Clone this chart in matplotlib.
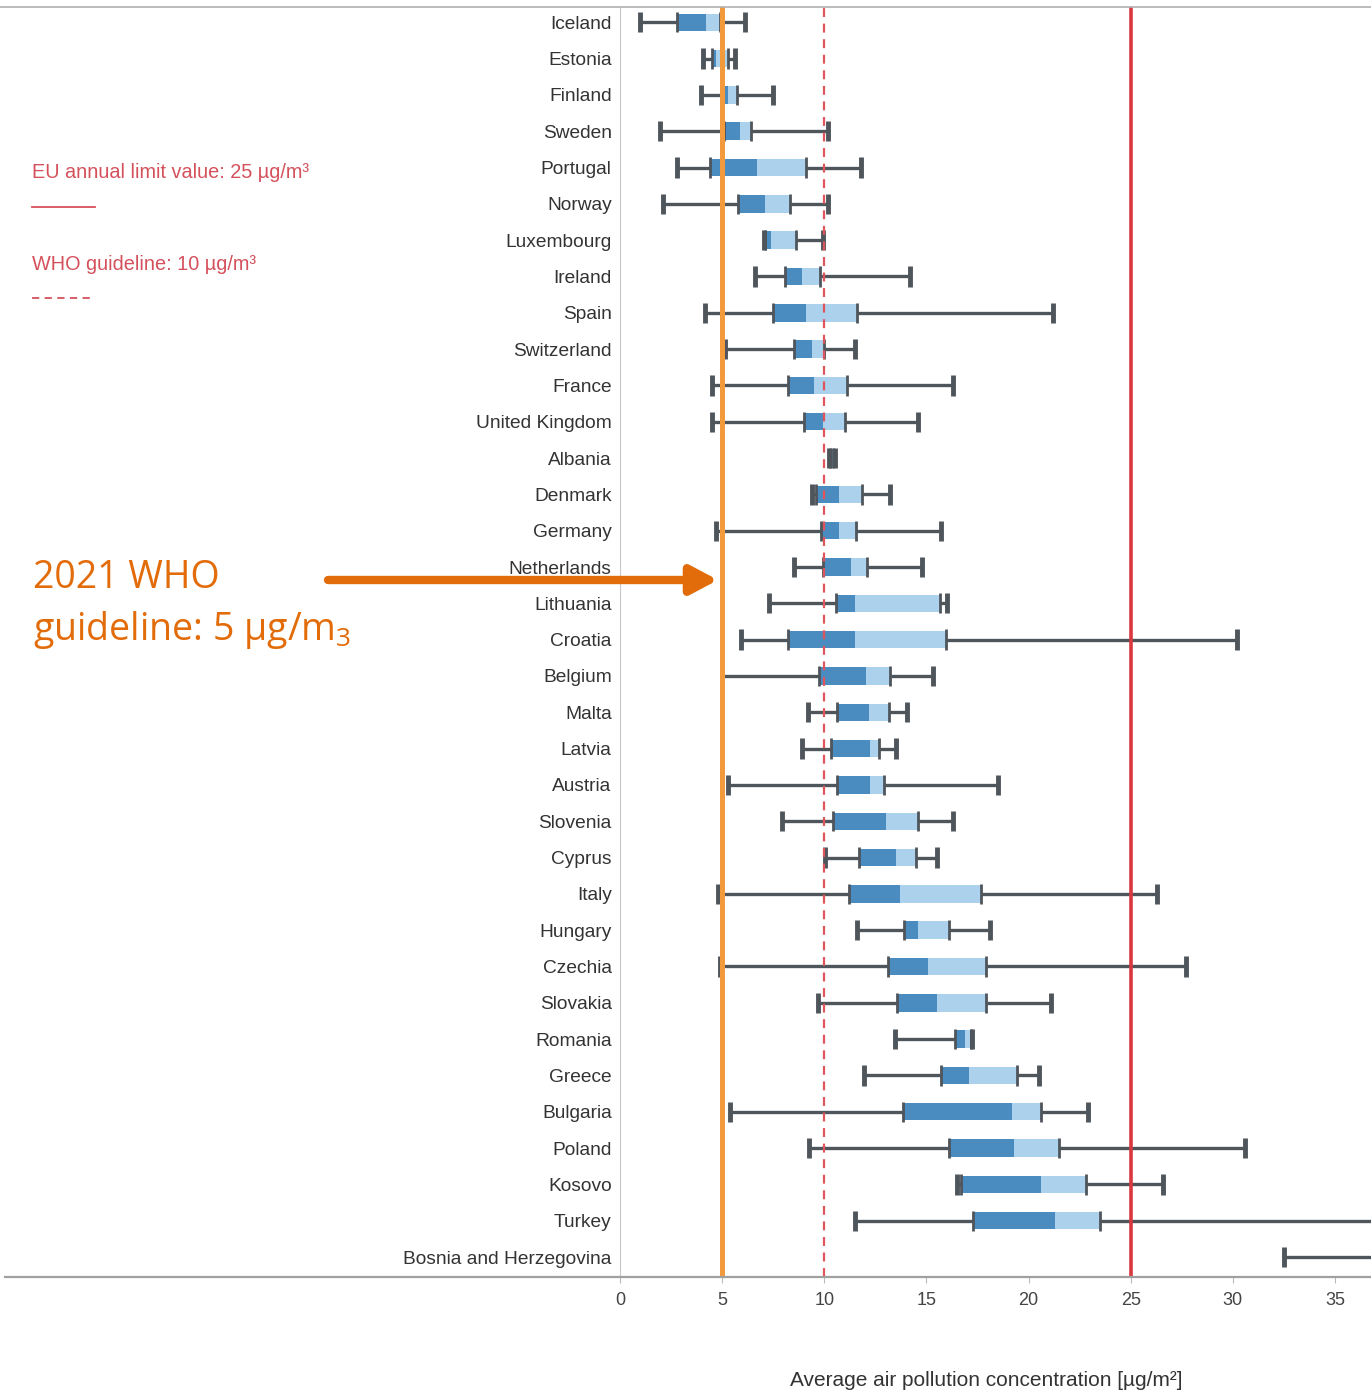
import matplotlib
matplotlib.use("Agg")
import matplotlib.pyplot as plt
from matplotlib.lines import Line2D

plt.rcParams['font.family'] = ['Liberation Sans', 'DejaVu Sans']
plt.rcParams['mathtext.fontset'] = 'custom'
plt.rcParams['mathtext.rm'] = 'Open Sans'
plt.rcParams['mathtext.default'] = 'regular'

# Country order, top to bottom
countries = ["Iceland", "Estonia", "Finland", "Sweden", "Portugal", "Norway",
             "Luxembourg", "Ireland", "Spain", "Switzerland", "France",
             "United Kingdom", "Albania", "Denmark", "Germany", "Netherlands",
             "Lithuania", "Croatia", "Belgium", "Malta", "Latvia", "Austria",
             "Slovenia", "Cyprus", "Italy", "Hungary", "Czechia", "Slovakia",
             "Romania", "Greece", "Bulgaria", "Poland", "Kosovo", "Turkey",
             "Bosnia and Herzegovina"]

# PM2.5 station statistics (µg/m³)
mins = [1.0, 4.05, 3.95, 1.95, 2.8, 2.1, 7.05, 6.6, 4.15, 5.15, 4.5,
        4.5, 10.25, 9.4, 4.7, 8.5, 7.3, 5.9, 5.0, 9.2, 8.9, 5.3,
        7.95, 10.05, 4.8, 11.6, 4.9, 9.7, 13.45, 11.95, 5.4, 9.25, 16.5, 11.5,
        32.5]
q1s = [2.8, 4.5, 5.0, 5.1, 4.4, 5.8, 7.1, 8.1, 7.5, 8.5, 8.2,
       9.0, 10.3, 9.6, 9.85, 9.95, 10.55, 8.2, 9.75, 10.6, 10.35, 10.6,
       10.45, 11.7, 11.2, 13.9, 13.1, 13.55, 16.4, 15.7, 13.85, 16.1, 16.7, 17.3,
       40.0]
medians = [4.2, 4.7, 5.3, 5.85, 6.7, 7.1, 7.4, 8.9, 9.1, 9.4, 9.5,
           9.95, 10.35, 10.7, 10.7, 11.3, 11.5, 11.5, 12.05, 12.2, 12.25, 12.25,
           13.0, 13.5, 13.7, 14.6, 15.1, 15.5, 16.9, 17.1, 19.2, 19.3, 20.6, 21.3,
           44.0]
q3s = [4.9, 5.3, 5.75, 6.4, 9.1, 8.3, 8.6, 9.8, 11.6, 10.0, 11.1,
       11.0, 10.45, 11.85, 11.55, 12.1, 15.65, 15.95, 13.2, 13.15, 12.7, 12.9,
       14.6, 14.5, 17.65, 16.1, 17.9, 17.9, 17.2, 19.45, 20.6, 21.5, 22.8, 23.5,
       48.0]
maxs = [6.1, 5.65, 7.5, 10.2, 11.8, 10.2, 9.95, 14.2, 21.2, 11.5, 16.3,
        14.6, 10.5, 13.2, 15.7, 14.8, 16.0, 30.2, 15.3, 14.05, 13.5, 18.5,
        16.3, 15.5, 26.3, 18.1, 27.7, 21.1, 17.25, 20.5, 22.9, 30.6, 26.6, 42.0,
        55.0]

x_ticks = [0, 5, 10, 15, 20, 25, 30, 35]
eu_limit = 25
who_old = 10
who_2021 = 5

DARK_BLUE = "#4b8cc0"
LIGHT_BLUE = "#abd1ec"
WHISKER = "#4e555b"
RED = "#d9383f"
PINK = "#d4515c"
ORANGE = "#e36c0a"

W, H = 1371, 1393
fig = plt.figure(figsize=(W / 100, H / 100), dpi=100)
ax = fig.add_axes([620 / W, 1 - 1277 / H, 1 - 620 / W, (1277 - 7) / H])

ys = list(range(len(countries)))
box_h = 0.48
cap_h = 0.56

for y, lo, a, m, b, hi in zip(ys, mins, q1s, medians, q3s, maxs):
    ax.plot([lo, hi], [y, y], color=WHISKER, lw=2.4, zorder=2, solid_capstyle="butt")
    ax.barh(y, m - a, left=a, height=box_h, color=DARK_BLUE, zorder=3)
    ax.barh(y, b - m, left=m, height=box_h, color=LIGHT_BLUE, zorder=3)
    for xv, lw in ((lo, 3.5), (hi, 3.5), (a, 2.0), (b, 2.0)):
        ax.plot([xv, xv], [y - cap_h / 2, y + cap_h / 2], color=WHISKER,
                lw=lw, zorder=4, solid_capstyle="butt")

ax.axvline(who_old, color="#e0545c", lw=1.6, ls=(0, (4, 3)), zorder=5)
ax.axvline(eu_limit, color=RED, lw=2.6, zorder=5)
ax.axvline(who_2021, color="#f39a3c", lw=3.6, zorder=6)

ax.set_xlim(0, (W - 620) / 20.43)
ax.set_ylim(len(countries) - 0.45, -0.42)
ax.set_yticks(ys)
ax.set_yticklabels(countries, fontsize=13.8, color="#333333")
ax.tick_params(axis="y", length=0, pad=6)
ax.set_xticks(x_ticks)
ax.tick_params(axis="x", length=4, color="#bbbbbb", labelsize=13, labelcolor="#444444", pad=7)
ax.set_xlabel("Average air pollution concentration [µg/m²]", fontsize=15,
              color="#333333")
ax.xaxis.set_label_coords((986 - 620) / (W - 620), -94 / 1270)

for side in ("top", "right", "bottom"):
    ax.spines[side].set_visible(False)
ax.spines["left"].set_color("#c8c8c8")

# frame lines spanning the whole picture
fig.add_artist(Line2D([0, 1], [1 - 7 / H, 1 - 7 / H], color="#b0b0b0", lw=1.2))
fig.add_artist(Line2D([5 / W, 1], [1 - 1277 / H, 1 - 1277 / H], color="#a0a0a0", lw=1.6))

# legend text on the left
fig.text(32 / W, 1 - 172 / H, "EU annual limit value: 25 µg/m³", color=PINK,
         fontsize=14.3, va="center", ha="left")
fig.add_artist(Line2D([32 / W, 95 / W], [1 - 207 / H] * 2, color=PINK, lw=1.3))
fig.text(32 / W, 1 - 265 / H, "WHO guideline: 10 µg/m³", color=PINK,
         fontsize=14.3, va="center", ha="left")
fig.add_artist(Line2D([32 / W, 92 / W], [1 - 298 / H] * 2, color=PINK, lw=1.3,
                      ls=(0, (4, 3))))

# orange annotation
fig.text(33 / W, 1 - 578 / H, "2021 WHO", color=ORANGE,
         fontsize=27, va="center", ha="left", family=["Open Sans", "DejaVu Sans"])
fig.text(33 / W, 1 - 630 / H, "guideline: 5 µg/m$_3$", color=ORANGE,
         fontsize=27, va="center", ha="left", family=["Open Sans", "DejaVu Sans"])
ax.annotate("", xy=(718 / W, 1 - 580 / H), xycoords="figure fraction",
            xytext=(328 / W, 1 - 580 / H), textcoords="figure fraction",
            arrowprops=dict(arrowstyle="-|>,head_length=1.6,head_width=0.85",
                            color=ORANGE, lw=6, shrinkA=0, shrinkB=0))

fig.savefig("out.png", dpi=100)
